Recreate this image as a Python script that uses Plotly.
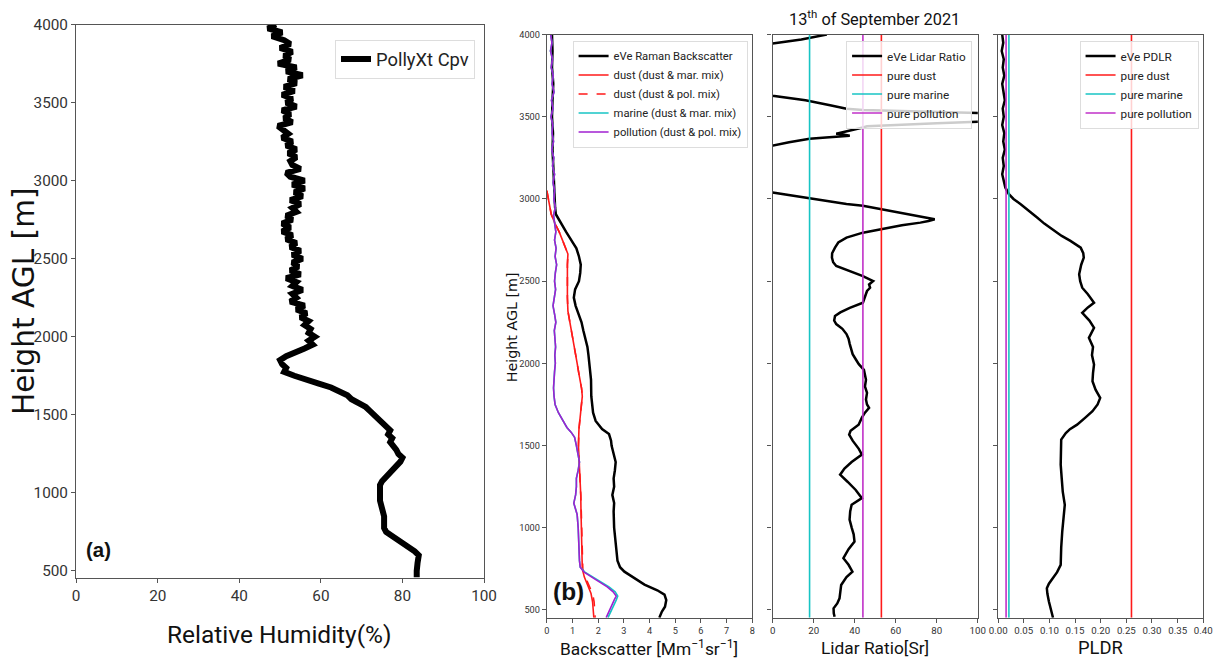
import plotly.graph_objects as go

W, H = 1215, 660          # target picture
# the viewer shows the page with a small margin and a slight zoom; map target pixels to figure pixels
SCALE, OX, OY = 0.98, 9.0, 8.5
FW, FH = 1230, 664
NARROW = "Roboto, Liberation Sans, sans-serif"
DJ = "DejaVu Sans, sans-serif"

# ---------------- panel (a) : relative humidity ----------------
rh_h = [4000, 3975, 3950, 3925, 3900, 3875, 3850, 3825, 3800, 3775, 3750, 3725, 3700, 3675, 3650,
        3625, 3600, 3575, 3550, 3525, 3500, 3475, 3450, 3425, 3400, 3375, 3350, 3325, 3300, 3275,
        3250, 3225, 3200, 3175, 3150, 3125, 3100, 3075, 3050, 3025, 3000, 2975, 2950, 2925, 2900,
        2875, 2850, 2825, 2800, 2775, 2750, 2725, 2700, 2675, 2650, 2625, 2600, 2575, 2550, 2525,
        2500, 2475, 2450, 2425, 2400, 2375, 2350, 2325, 2300, 2275, 2250, 2225, 2200, 2175, 2150,
        2125, 2100, 2075, 2050, 2025, 2000, 1975, 1950, 1925, 1900, 1875, 1850, 1825, 1800, 1775,
        1750, 1725, 1700, 1675, 1650, 1625, 1600, 1575, 1550, 1525, 1500, 1475, 1450, 1425, 1400,
        1375, 1350, 1325, 1300, 1275, 1250, 1225, 1200, 1175, 1150, 1125, 1100, 1075, 1050, 1025,
        1000, 950, 900, 850, 800, 775, 750, 725, 700, 675, 650, 625, 600, 575, 550, 500, 457]
rh_v = [49, 47, 50.5, 48, 51, 52.5, 50, 53, 51, 52.5, 49.5, 54, 51.5, 55.5, 52,
        54, 51, 53.5, 50.5, 53, 51.5, 54, 50.5, 52.5, 51, 53, 49.5, 51, 52, 50.5,
        53, 51.5, 54, 52, 54, 52.5, 53, 55, 51.5, 52.5, 56, 53, 56, 53.5, 55.5,
        52.5, 55, 53, 54, 51.5, 53, 50.5, 52.5, 50.5, 53, 51.5, 54, 52.5, 55, 53,
        55.5, 53, 54.5, 52.5, 55, 51.5, 54, 53, 55.5, 53, 54, 52.5, 56, 54, 56.5,
        55, 57, 56, 57.5, 57, 58.5, 57, 58, 56, 53.5, 51.5, 50, 50.5, 51.5, 51,
        53.5, 56, 59.5, 62.5, 64.5, 66.5, 67.5, 69.5, 71, 72, 73, 74.5, 75.5, 76, 77,
        76.5, 77.5, 77, 78, 78.5, 79, 80, 79.5, 78.5, 77.5, 76.5, 75.5, 75, 74.5, 74.5,
        74.5, 74.5, 75, 75.5, 75.5, 75.5, 76, 77.5, 79, 80.5, 82, 83, 84, 84, 83.7, 83.5, 83.5]

# ---------------- panel (b) : backscatter ----------------
bsc_eve_h = [4000, 3900, 3800, 3700, 3600, 3500, 3400, 3300, 3200, 3100, 3000, 2950, 2907, 2850,
             2800, 2750, 2700, 2650, 2600, 2550, 2500, 2450, 2400, 2350, 2300, 2250, 2200, 2150,
             2100, 2050, 2000, 1950, 1900, 1800, 1700, 1650, 1600, 1570, 1530, 1500, 1450, 1400,
             1350, 1300, 1250, 1200, 1150, 1100, 1000, 900, 800, 760, 733, 700, 654, 620, 593,
             560, 520, 490, 453]
bsc_eve_v = [0.2, 0.22, 0.2, 0.25, 0.22, 0.2, 0.24, 0.22, 0.25, 0.27, 0.3, 0.32, 0.35, 0.55,
             0.75, 0.95, 1.15, 1.25, 1.32, 1.3, 1.25, 1.1, 1.05, 1.12, 1.25, 1.35, 1.42, 1.5,
             1.58, 1.62, 1.65, 1.7, 1.72, 1.73, 1.8, 1.9, 2.15, 2.42, 2.5, 2.52, 2.6, 2.68,
             2.65, 2.6, 2.62, 2.55, 2.62, 2.6, 2.62, 2.68, 2.75, 2.85, 3.02, 3.35, 3.8, 4.3, 4.58,
             4.65, 4.6, 4.48, 4.38]

dust_mar_h = [3050, 2980, 2907, 2850, 2800, 2745, 2700, 2665, 2600, 2500, 2400, 2318, 2250, 2200,
              2150, 2093, 2000, 1934, 1900, 1850, 1800, 1750, 1700, 1650, 1600, 1500, 1400, 1300,
              1200, 1100, 1000, 900, 800, 750, 700, 650, 600, 550, 500, 453]
dust_mar_v = [0.0, 0.08, 0.17, 0.32, 0.48, 0.62, 0.75, 0.82, 0.8, 0.79, 0.8, 0.82, 0.9, 0.97,
              1.02, 1.08, 1.18, 1.25, 1.3, 1.35, 1.38, 1.35, 1.3, 1.27, 1.25, 1.23, 1.27, 1.3,
              1.32, 1.33, 1.34, 1.34, 1.35, 1.38, 1.46, 1.58, 1.72, 1.78, 1.8, 1.83]
dust_pol_h = dust_mar_h
dust_pol_v = [0.0, 0.08, 0.17, 0.32, 0.48, 0.62, 0.75, 0.82, 0.8, 0.79, 0.8, 0.82, 0.9, 0.97,
              1.02, 1.08, 1.18, 1.25, 1.3, 1.35, 1.38, 1.35, 1.3, 1.27, 1.25, 1.23, 1.27, 1.3,
              1.32, 1.34, 1.35, 1.36, 1.37, 1.4, 1.5, 1.63, 1.78, 1.84, 1.86, 1.88]

poll_h = [4000, 3950, 3900, 3850, 3800, 3750, 3700, 3650, 3600, 3550, 3500, 3450, 3400, 3350,
          3300, 3250, 3200, 3150, 3100, 3050, 3000, 2950, 2900, 2850, 2800, 2750, 2700, 2650,
          2600, 2550, 2500, 2450, 2400, 2350, 2300, 2250, 2200, 2150, 2100, 2050, 2000, 1950,
          1900, 1850, 1800, 1750, 1700, 1650, 1610, 1580, 1550, 1500, 1450, 1400, 1350, 1300,
          1250, 1200, 1150, 1120, 1080, 1000, 900, 800, 760, 730, 700, 670, 640, 610, 585,
          560, 520, 490, 453]
poll_v = [0.15, 0.2, 0.14, 0.22, 0.17, 0.25, 0.2, 0.28, 0.18, 0.24, 0.16, 0.23, 0.2, 0.26,
          0.19, 0.27, 0.22, 0.3, 0.24, 0.3, 0.27, 0.33, 0.26, 0.31, 0.35, 0.3, 0.36, 0.32,
          0.38, 0.33, 0.3, 0.34, 0.28, 0.24, 0.3, 0.35, 0.29, 0.32, 0.34, 0.31, 0.33, 0.3,
          0.28, 0.26, 0.28, 0.32, 0.45, 0.62, 0.78, 0.95, 1.08, 1.15, 1.22, 1.27, 1.22, 1.15,
          1.15, 1.12, 1.05, 1.1, 1.18, 1.22, 1.24, 1.27, 1.3, 1.45, 1.75, 2.05, 2.35, 2.58, 2.7,
          2.62, 2.5, 2.4, 2.31]
mar_h = poll_h
mar_v = [0.15, 0.2, 0.14, 0.22, 0.17, 0.25, 0.2, 0.28, 0.18, 0.24, 0.16, 0.23, 0.2, 0.26,
         0.19, 0.27, 0.22, 0.3, 0.24, 0.3, 0.27, 0.33, 0.26, 0.31, 0.35, 0.3, 0.36, 0.32,
         0.38, 0.33, 0.3, 0.34, 0.28, 0.24, 0.3, 0.35, 0.29, 0.32, 0.34, 0.31, 0.33, 0.3,
         0.28, 0.26, 0.28, 0.32, 0.45, 0.62, 0.78, 0.95, 1.08, 1.15, 1.22, 1.27, 1.22, 1.15,
         1.15, 1.12, 1.05, 1.1, 1.18, 1.22, 1.24, 1.27, 1.3, 1.48, 1.8, 2.1, 2.42, 2.66, 2.76,
         2.7, 2.58, 2.47, 2.38]

# ---------------- lidar ratio ----------------
lr_h = [4000, 3970, 3945, 3900, 3800, 3700, 3628, 3600, 3570, 3549, 3541, 3530, 3522, 3505, 3475,
        3460, 3450, 3442, 3435, 3427, 3410, 3397, 3390, 3384, 3374, 3366, 3345, 3324, 3300, 3200,
        3100, 3039, 3010, 2988, 2969, 2958, 2938, 2917, 2897, 2885, 2877, 2866, 2856, 2840, 2818,
        2795, 2765, 2735, 2704, 2670, 2643, 2615, 2592, 2562, 2531, 2510, 2501, 2480, 2460, 2440,
        2400, 2369, 2338, 2310, 2288, 2260, 2239, 2210, 2178, 2150, 2117, 2085, 2056, 2025, 1995,
        1960, 1932, 1900, 1860, 1820, 1780, 1750, 1729, 1700, 1670, 1627, 1590, 1567, 1530, 1480,
        1445, 1400, 1360, 1323, 1280, 1230, 1180, 1140, 1099, 1050, 998, 960, 916, 870, 815,
        775, 733, 700, 652, 610, 571, 540, 510, 480, 459]
lr_v = [26.4, 14, 0, -15, -30, -15, 0, 16, 28, 36, 44, 75, 105, 115, 110,
        80, 60, 46, 44, 41, 36, 31, 35, 37.6, 26, 18, 8, 0, -10, -25,
        -12, 0, 14, 24.8, 36, 44, 53, 62, 72, 77, 79, 76, 72, 63, 53,
        44, 36, 32, 30.4, 29, 28.9, 29.5, 31, 37.6, 44, 47.5, 49, 47, 47.5, 46,
        45, 44, 37.6, 33, 30.4, 30, 31, 34, 36, 37, 37.6, 38.5, 39, 40.5, 42,
        44.5, 45, 45.5, 45, 46, 45.5, 46, 47, 45, 43.5, 41.9, 38, 37.3, 39, 42,
        43.5, 38.5, 35, 32.9, 36.5, 40.5, 43.5, 38.5, 37.8, 37.5, 38.6, 39.5, 39.9, 37, 34.5,
        37, 38.9, 36, 33.4, 33, 32.6, 31.5, 29.7, 29.8, 30.2]
lr_dust, lr_marine, lr_poll = 53, 18, 44

# ---------------- PLDR ----------------
pldr_h = [4000, 3950, 3900, 3850, 3800, 3750, 3700, 3650, 3600, 3550, 3500, 3450, 3400, 3350,
          3300, 3250, 3200, 3150, 3100, 3070, 3029, 3000, 2968, 2930, 2887, 2850, 2806, 2775,
          2745, 2720, 2704, 2670, 2643, 2600, 2542, 2500, 2460, 2420, 2369, 2340, 2308, 2260,
          2216, 2155, 2100, 2050, 1993, 1940, 1891, 1840, 1790, 1750, 1709, 1670, 1627, 1600,
          1576, 1536, 1460, 1384, 1300, 1220, 1140, 1060, 977, 880, 774, 730, 693, 660, 632,
          600, 551, 500, 453]
pldr_v = [0.008, 0.01, 0.007, 0.011, 0.009, 0.012, 0.008, 0.01, 0.013, 0.009, 0.011, 0.008, 0.012, 0.01,
          0.013, 0.009, 0.011, 0.008, 0.012, 0.014, 0.021, 0.03, 0.044, 0.058, 0.076, 0.09, 0.109, 0.124,
          0.141, 0.152, 0.161, 0.166, 0.167, 0.162, 0.158, 0.16, 0.164, 0.175, 0.187, 0.175, 0.164, 0.178,
          0.187, 0.177, 0.185, 0.183, 0.187, 0.185, 0.184, 0.19, 0.199, 0.194, 0.184, 0.17, 0.154, 0.14,
          0.132, 0.123, 0.122, 0.122, 0.124, 0.126, 0.13, 0.127, 0.125, 0.123, 0.122, 0.115, 0.106, 0.099, 0.095,
          0.096, 0.099, 0.103, 0.107]
pldr_dust, pldr_marine, pldr_poll = 0.26, 0.021, 0.0155

HB = [453, 4000]   # height range of panels b-d
HA = [457, 4000]   # height range of panel a

RED, CYAN, MAG, PURP = "#ff1a1a", "#17c4c4", "#c030c8", "#a020d0"

fig = go.Figure()


def line(x, y, name, color, width, ax, leg, dash="solid"):
    fig.add_trace(go.Scatter(x=x, y=y, name=name, mode="lines",
                             line=dict(color=color, width=width, dash=dash),
                             xaxis="x" + ax, yaxis="y" + ax, legend=leg))


line(rh_v, rh_h, "PollyXt Cpv", "black", 6, "", "legend")

line(bsc_eve_v, bsc_eve_h, "eVe Raman Backscatter", "black", 2.5, "2", "legend2")
line(dust_mar_v, dust_mar_h, "dust (dust & mar. mix)", RED, 1.6, "2", "legend2")
line(dust_pol_v, dust_pol_h, "dust (dust & pol. mix)", RED, 1.6, "2", "legend2", dash="dash")
line(mar_v, mar_h, "marine (dust & mar. mix)", CYAN, 1.6, "2", "legend2")
line(poll_v, poll_h, "pollution (dust & pol. mix)", PURP, 1.6, "2", "legend2")

line(lr_v, lr_h, "eVe Lidar Ratio", "black", 2.5, "3", "legend3")
line([lr_dust, lr_dust], HB, "pure dust", RED, 1.6, "3", "legend3")
line([lr_marine, lr_marine], HB, "pure marine", CYAN, 1.6, "3", "legend3")
line([lr_poll, lr_poll], HB, "pure pollution", MAG, 1.6, "3", "legend3")

line(pldr_v, pldr_h, "eVe PDLR", "black", 2.5, "4", "legend4")
line([pldr_dust, pldr_dust], HB, "pure dust", RED, 1.6, "4", "legend4")
line([pldr_marine, pldr_marine], HB, "pure marine", CYAN, 1.6, "4", "legend4")
line([pldr_poll, pldr_poll], HB, "pure pollution", MAG, 1.6, "4", "legend4")


def fx(x):
    return ((x - OX) / SCALE) / FW


def fy(y):
    return 1 - ((y - OY) / SCALE) / FH


def px(x0, x1):
    return [fx(x0), fx(x1)]


def py(top, bottom):
    return [fy(bottom), fy(top)]


def fs(s):
    return s / SCALE


FRAME = "#555555"


def axis(domain, rng, dtick, anchor, size, labels=True, fmt=None, tick0=None):
    d = dict(domain=domain, range=rng, dtick=dtick, anchor=anchor, showgrid=False, zeroline=False,
             showline=True, mirror=True, linecolor=FRAME, linewidth=1.3, ticks="outside",
             ticklen=4, tickcolor=FRAME, showticklabels=labels,
             tickfont=dict(family=NARROW, size=fs(size), color="#333333"))
    if fmt:
        d["tickformat"] = fmt
    if tick0 is not None:
        d["tick0"] = tick0
    return d


yb = py(34, 616)
fig.update_layout(
    width=FW, height=FH, margin=dict(l=0, r=0, t=0, b=0),
    paper_bgcolor="white", plot_bgcolor="white",
    xaxis=axis(px(76, 483), [0, 100], 20, "y", 15),
    yaxis=axis(py(24, 576), HA, 500, "x", 15, tick0=0),
    xaxis2=axis(px(545.7, 750.7), [0, 8], 1, "y2", 9),
    yaxis2=axis(yb, HB, 500, "x2", 9, tick0=0),
    xaxis3=axis(px(771, 975.7), [0, 100], 20, "y3", 9.5),
    yaxis3=axis(yb, HB, 500, "x3", 9, labels=False, tick0=0),
    xaxis4=axis(px(996, 1200.7), [0, 0.4], 0.05, "y4", 9.5, fmt=".2f"),
    yaxis4=axis(yb, HB, 500, "x4", 9, labels=False, tick0=0),
)


def legend(right, top, size):
    return dict(x=fx(right), y=fy(top), xanchor="right", yanchor="top", xref="paper", yref="paper",
                bgcolor="rgba(255,255,255,0.8)", bordercolor="#dddddd", borderwidth=1,
                font=dict(family=NARROW, size=fs(size), color="#222222"), itemwidth=30)


fig.update_layout(
    legend=legend(474, 39, 18),
    legend2=legend(746, 40, 11),
    legend3=legend(970, 40, 11.5),
    legend4=legend(1196, 40, 11.5),
    showlegend=True,
)


def ann(text, x, y, size, family=NARROW, angle=0, color="#111111"):
    fig.add_annotation(text=text, x=fx(x), y=fy(y), xref="paper", yref="paper", showarrow=False,
                       font=dict(family=family, size=fs(size), color=color), textangle=angle,
                       xanchor="center", yanchor="middle")


ann("Height AGL [m]", 24, 300, 29, family=DJ, angle=-90)
ann("Relative Humidity(%)", 279, 633, 24)
ann("<b>(a)</b>", 98, 548, 20, family="Liberation Sans, sans-serif")
ann("Height AGL [m]", 511, 326, 14, family=DJ, angle=-90)
ann("Backscatter [Mm<sup>−1</sup>sr<sup>−1</sup>]", 648, 646, 17)
ann("Lidar Ratio[Sr]", 873, 646, 17)
ann("PLDR", 1098, 646, 18)
ann("13<sup>th</sup> of September 2021", 873, 17, 16)
ann("<b>(b)</b>", 567, 590, 24, family="Liberation Sans, sans-serif")

fig.write_html("out.html")
